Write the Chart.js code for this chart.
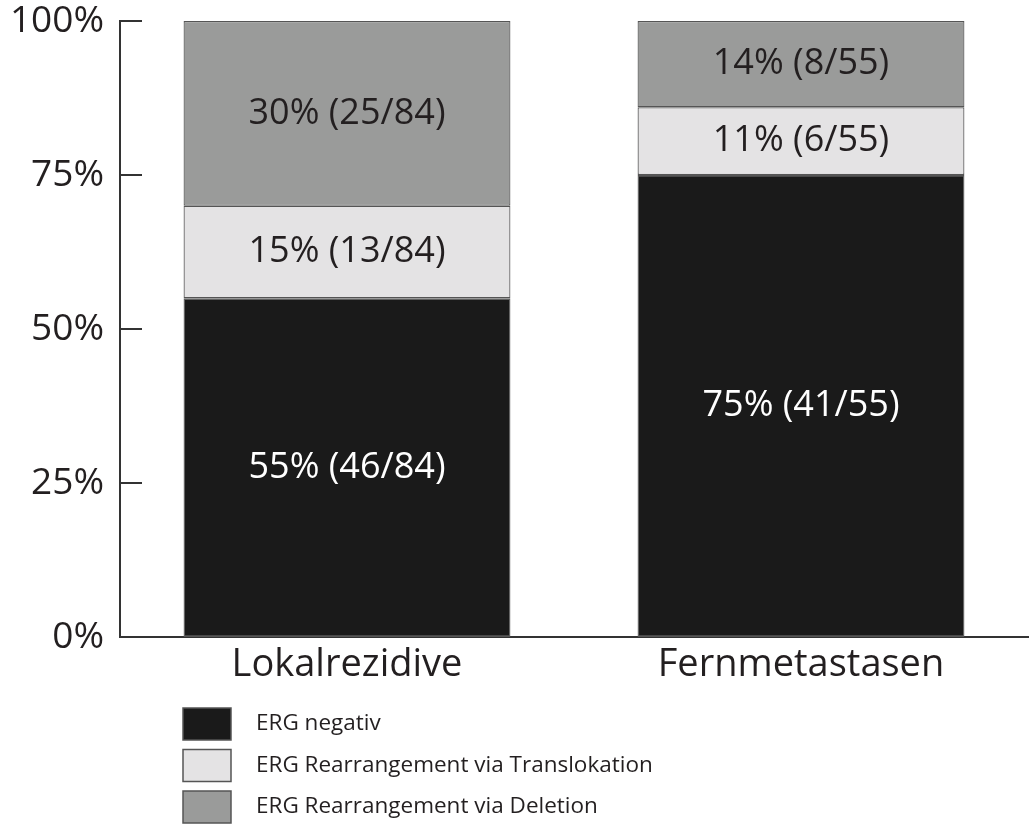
<!DOCTYPE html>
<html lang="de">
<head>
<meta charset="UTF-8">
<title>ERG Status</title>
<script src="https://cdn.jsdelivr.net/npm/chart.js"></script>
<style>
  html, body { margin: 0; padding: 0; background: #fff; }
  #wrap { width: 1032px; height: 832px; }
</style>
</head>
<body>
<div id="wrap"><canvas id="myChart"></canvas></div>
<script>
// data
const groups = ['Lokalrezidive', 'Fernmetastasen'];
const seriesNames = ['ERG negativ', 'ERG Rearrangement via Translokation', 'ERG Rearrangement via Deletion'];
const negativPct = [55, 75];
const translokPct = [15, 11];
const deletionPct = [30, 14];
const negativN = [46, 41];
const translokN = [13, 6];
const deletionN = [25, 8];
const totals = [84, 55];
const yTicks = [0, 25, 50, 75, 100];

const fillColors = ['#1a1a1a', '#e4e3e4', '#9a9b9a'];
const textColors = ['#ffffff', '#231f20', '#231f20'];
const FONT = "'Open Sans', 'Noto Sans', sans-serif";

function mk(i, pct, n) {
    return {
        label: seriesNames[i],
        data: pct,
        counts: n,
        backgroundColor: fillColors[i],
        borderColor: '#555555',
        borderWidth: 1.2,
        borderSkipped: false,
        categoryPercentage: 0.72,
        barPercentage: 1.0
    };
}

// labels inside the bar segments
const segLabels = {
    id: 'segLabels',
    afterDatasetsDraw(chart) {
        const ctx = chart.ctx;
        ctx.save();
        ctx.font = '36px ' + FONT;
        ctx.textAlign = 'center';
        ctx.textBaseline = 'middle';
        chart.data.datasets.forEach((ds, di) => {
            const meta = chart.getDatasetMeta(di);
            meta.data.forEach((el, i) => {
                const p = el.getCenterPoint();
                ctx.fillStyle = textColors[di];
                ctx.fillText(ds.data[i] + '% (' + ds.counts[i] + '/' + totals[i] + ')', p.x, p.y);
            });
        });
        ctx.restore();
    }
};

// inward tick marks on the y axis
const innerTicks = {
    id: 'innerTicks',
    afterDraw(chart) {
        const y = chart.scales.y;
        const ctx = chart.ctx;
        ctx.save();
        ctx.strokeStyle = '#333333';
        ctx.lineWidth = 2;
        y.ticks.forEach((t, i) => {
            const py = y.getPixelForTick(i);
            ctx.beginPath();
            ctx.moveTo(y.right, py);
            ctx.lineTo(y.right + 22, py);
            ctx.stroke();
        });
        ctx.restore();
    }
};

// legend list under the chart
const boxLegend = {
    id: 'boxLegend',
    afterDraw(chart) {
        const ctx = chart.ctx;
        ctx.save();
        ctx.font = '22.5px ' + FONT;
        ctx.textBaseline = 'middle';
        ctx.textAlign = 'left';
        chart.data.datasets.forEach((ds, i) => {
            const top = 708 + i * 41.5;
            ctx.fillStyle = ds.backgroundColor;
            ctx.fillRect(183, top, 48, 32);
            ctx.strokeStyle = '#555555';
            ctx.lineWidth = 1.5;
            ctx.strokeRect(183, top, 48, 32);
            ctx.fillStyle = '#231f20';
            ctx.fillText(ds.label, 256, top + 16);
        });
        ctx.restore();
    }
};

new Chart(document.getElementById('myChart'), {
    type: 'bar',
    data: {
        labels: groups,
        datasets: [mk(0, negativPct, negativN), mk(1, translokPct, translokN), mk(2, deletionPct, deletionN)]
    },
    options: {
        responsive: true,
        maintainAspectRatio: false,
        animation: false,
        layout: { padding: { top: 21, right: 4, left: 0, bottom: 0 } },
        plugins: { legend: { display: false }, tooltip: { enabled: false } },
        scales: {
            x: {
                stacked: true,
                grid: { display: false, drawTicks: false },
                border: { color: '#333333', width: 2 },
                ticks: { color: '#231f20', padding: 5, font: { family: FONT, size: 38 } },
                afterFit(s) { s.height = 195; s.paddingLeft = 0; s.paddingRight = 0; }
            },
            y: {
                stacked: true,
                min: 0,
                max: 100,
                afterBuildTicks(s) { s.ticks = yTicks.map(v => ({ value: v })); },
                grid: { display: false, drawTicks: false },
                border: { color: '#333333', width: 2 },
                ticks: {
                    color: '#231f20',
                    padding: 16,
                    font: { family: FONT, size: 37 },
                    callback: v => v + '%'
                },
                afterFit(s) { s.width = 120; s.paddingTop = 0; s.paddingBottom = 0; }
            }
        }
    },
    plugins: [segLabels, innerTicks, boxLegend]
});
</script>
</body>
</html>
